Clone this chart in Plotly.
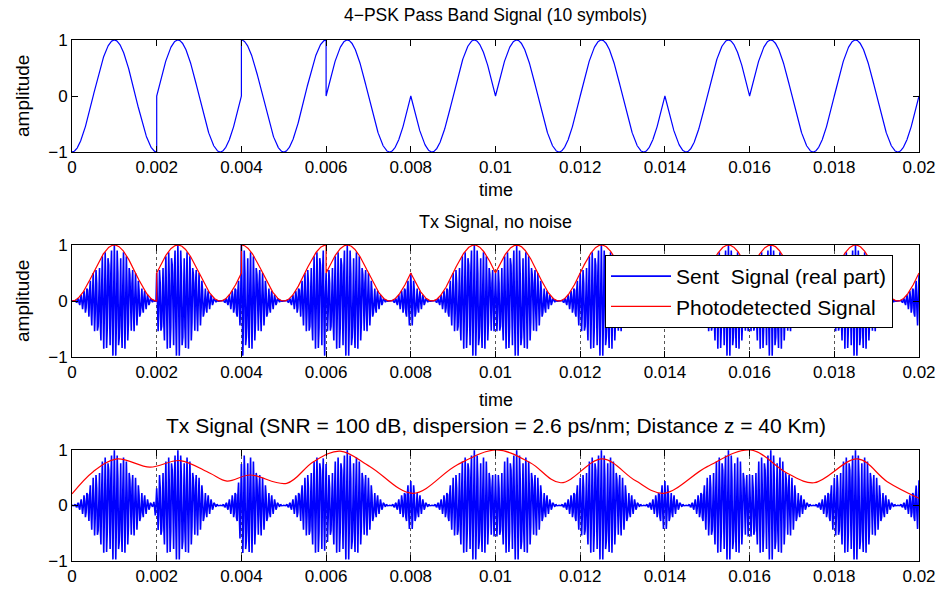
import numpy as np
import plotly.graph_objects as go

# ---------------- data ----------------
# 4-PSK symbol phases (degrees) of the 10 transmitted symbols, cos(w0 t + phase)
SYMBOL_PHASES_DEG = [180, 270, 0, 270, 90, 270, 270, 90, 270, 270]
SYMBOL_PERIOD = 0.002          # s
CARRIER_CYCLES_PER_SYMBOL = 1  # pass band signal: one cycle per symbol
OPTICAL_CYCLES_PER_SYMBOL = 28 # visible oscillations of the "Sent Signal"
SAMPLES_PER_SYMBOL_TX = 120    # coarse sampling of the Tx signal

# photodetected envelope after 40 km dispersion
RX_ENV_T = [0.0, 0.0005, 0.00106, 0.00184, 0.00255, 0.00326, 0.00366, 0.0042,
            0.00507, 0.0057, 0.00633, 0.00704, 0.00805, 0.00909, 0.01003,
            0.01082, 0.01154, 0.01252, 0.0133, 0.01397, 0.0150, 0.01602,
            0.01689, 0.01752, 0.01855, 0.01925, 0.0200]
RX_ENV_V = [0.21, 0.61, 0.84, 0.69, 0.81, 0.58, 0.44, 0.55,
            0.40, 0.79, 0.98, 0.70, 0.22, 0.73, 1.00,
            0.77, 0.41, 0.84, 0.45, 0.22, 0.70, 1.00,
            0.58, 0.41, 0.84, 0.43, 0.13]

X_TICKS = [0, 0.002, 0.004, 0.006, 0.008, 0.01, 0.012, 0.014, 0.016, 0.018, 0.02]
X_TICK_TEXT = ["0", "0.002", "0.004", "0.006", "0.008", "0.01", "0.012",
               "0.014", "0.016", "0.018", "0.02"]
Y_TICKS = [-1, 0, 1]

TITLES = ["4\u2212PSK Pass Band Signal (10 symbols)",
          "Tx Signal, no noise",
          "Tx Signal (SNR = 100 dB, dispersion = 2.6 ps/nm; Distance z = 40 Km)"]

# ---------------- signal construction from the symbols ----------------
f0 = CARRIER_CYCLES_PER_SYMBOL / SYMBOL_PERIOD
nsym = len(SYMBOL_PHASES_DEG)

# top panel: pass band signal, each symbol drawn on its own interval (jumps visible)
t_top, s_top = [], []
for k, ph in enumerate(SYMBOL_PHASES_DEG):
    tt = np.linspace(k * SYMBOL_PERIOD, (k + 1) * SYMBOL_PERIOD, 300)
    t_top.append(tt)
    s_top.append(np.cos(2 * np.pi * f0 * tt + np.deg2rad(ph)))
t_top = np.concatenate(t_top)
s_top = np.concatenate(s_top)

# photodetected envelope (1 + s)/2, drawn per symbol
t_env, e_env = [], []
for k, ph in enumerate(SYMBOL_PHASES_DEG):
    tt = np.linspace(k * SYMBOL_PERIOD, (k + 1) * SYMBOL_PERIOD, 300)
    t_env.append(tt)
    e_env.append((1 + np.cos(2 * np.pi * f0 * tt + np.deg2rad(ph))) / 2)
t_env = np.concatenate(t_env)
e_env = np.concatenate(e_env)

# coarsely sampled transmitted field (real part)
t_tx, e_tx = [], []
for k, ph in enumerate(SYMBOL_PHASES_DEG):
    tt = np.linspace(k * SYMBOL_PERIOD, (k + 1) * SYMBOL_PERIOD, SAMPLES_PER_SYMBOL_TX, endpoint=False)
    t_tx.append(tt)
    e_tx.append((1 + np.cos(2 * np.pi * f0 * tt + np.deg2rad(ph))) / 2)
t_tx = np.append(np.concatenate(t_tx), nsym * SYMBOL_PERIOD)
e_tx = np.concatenate(e_tx)
e_tx = np.append(e_tx, e_tx[-1])
fc = OPTICAL_CYCLES_PER_SYMBOL / SYMBOL_PERIOD
tx = e_tx * np.cos(2 * np.pi * fc * t_tx)

# bottom panel: dispersion smooths the symbol transitions
kern = np.ones(9) / 9
e_rx = np.convolve(np.pad(e_tx, 4, mode="edge"), kern, mode="valid")
rx = e_rx * np.cos(2 * np.pi * fc * t_tx)

# ---------------- figure ----------------
FONT = "Liberation Sans, Arial, Helvetica, sans-serif"
BLUE = "#0000ff"
RED = "#ff0000"

fig = go.Figure()
fig.add_trace(go.Scatter(x=t_top, y=s_top, mode="lines", line=dict(color=BLUE, width=1.2),
                         showlegend=False, xaxis="x", yaxis="y"))
fig.add_trace(go.Scatter(x=t_tx, y=tx, mode="lines", line=dict(color=BLUE, width=1.6),
                         name="Sent  Signal (real part)", xaxis="x2", yaxis="y2"))
fig.add_trace(go.Scatter(x=t_env, y=e_env, mode="lines", line=dict(color=RED, width=1.2),
                         name="Photodetected Signal", xaxis="x2", yaxis="y2"))
fig.add_trace(go.Scatter(x=t_tx, y=rx, mode="lines", line=dict(color=BLUE, width=1.6),
                         showlegend=False, xaxis="x3", yaxis="y3"))
fig.add_trace(go.Scatter(x=RX_ENV_T, y=RX_ENV_V, mode="lines",
                         line=dict(color=RED, width=1.2, shape="spline", smoothing=1.0),
                         showlegend=False, xaxis="x3", yaxis="y3"))

W, H = 948, 597
ML, MR, MT, MB = 72, 29, 40, 36
ph_ = H - MT - MB

def py(Y):
    return (H - MB - Y) / ph_

def px(X):
    return (X - ML) / (W - ML - MR)

domains = [(py(152), py(40)), (py(357), py(245)), (py(561), py(450))]

common_x = dict(range=[0, 0.02], tickvals=X_TICKS, ticktext=X_TICK_TEXT, ticks="inside",
                ticklen=6, tickcolor="black", showline=True, linecolor="black", linewidth=1,
                mirror="allticks", zeroline=False, tickfont=dict(family=FONT, size=17, color="black"),
                domain=[0, 1])
common_y = dict(range=[-1, 1], tickvals=Y_TICKS, ticks="inside", ticklen=6, tickcolor="black",
                showline=True, linecolor="black", linewidth=1, mirror="allticks", zeroline=False,
                showgrid=False, tickfont=dict(family=FONT, size=17, color="black"))

fig.update_layout(
    width=W, height=H, margin=dict(l=ML, r=MR, t=MT, b=MB),
    paper_bgcolor="white", plot_bgcolor="white",
    font=dict(family=FONT, size=17, color="black"),
    xaxis=dict(common_x, anchor="y", showgrid=False),
    yaxis=dict(common_y, domain=list(domains[0]), anchor="x"),
    xaxis2=dict(common_x, anchor="y2", showgrid=True, gridcolor="#555555", griddash="dot", gridwidth=1),
    yaxis2=dict(common_y, domain=list(domains[1]), anchor="x2"),
    xaxis3=dict(common_x, anchor="y3", showgrid=True, gridcolor="#555555", griddash="dot", gridwidth=1),
    yaxis3=dict(common_y, domain=list(domains[2]), anchor="x3"),
    legend=dict(x=px(605), y=py(255), xanchor="left", yanchor="top", bgcolor="white",
                bordercolor="black", borderwidth=1, font=dict(family=FONT, size=21, color="black"),
                tracegroupgap=0, itemwidth=60),
    showlegend=True,
)

ann = [
    dict(text=TITLES[0], x=0.5, y=py(15), size=17.5),
    dict(text=TITLES[1], x=0.5, y=py(222), size=18),
    dict(text=TITLES[2], x=0.5, y=py(425), size=21),
    dict(text="time", x=0.5, y=py(190), size=18),
    dict(text="time", x=0.5, y=py(400), size=18),
]
annotations = []
for a in ann:
    sz = a.pop("size")
    annotations.append(dict(a, xref="paper", yref="paper", showarrow=False,
                            xanchor="center", yanchor="middle",
                            font=dict(family=FONT, size=sz, color="black")))
for yc in (py(96), py(301)):
    annotations.append(dict(text="amplitude", x=px(22), y=yc, xref="paper", yref="paper",
                            showarrow=False, textangle=-90, xanchor="center", yanchor="middle",
                            font=dict(family=FONT, size=19, color="black")))
fig.update_layout(annotations=annotations)

fig.write_html("out.html")
